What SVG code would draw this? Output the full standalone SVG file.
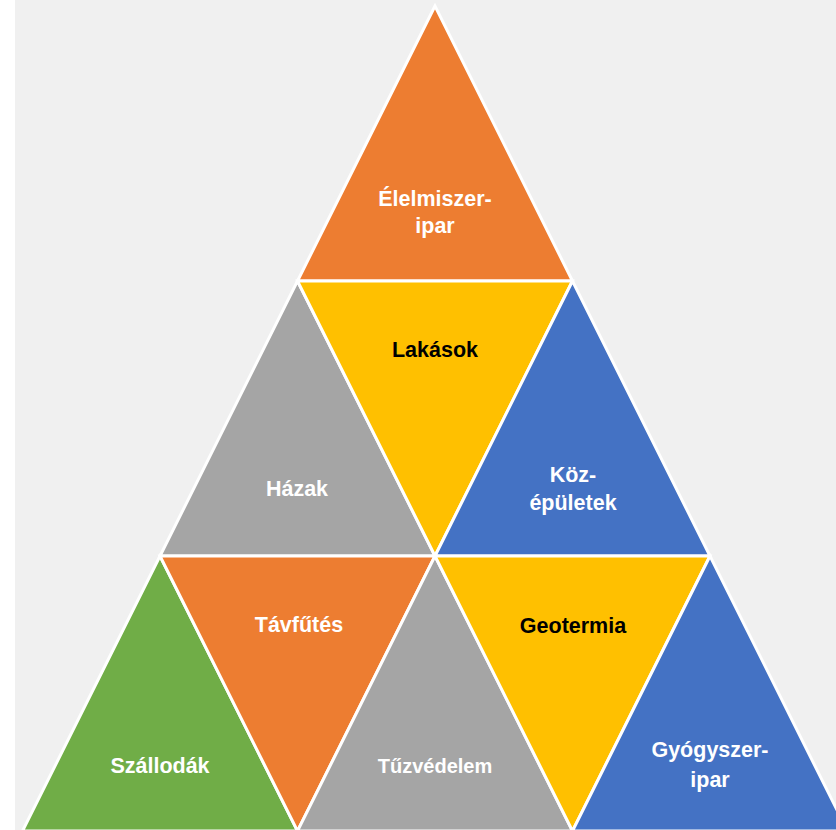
<svg xmlns="http://www.w3.org/2000/svg" width="836" height="830" viewBox="0 0 836 830">
<style>
.t{stroke:#ffffff;stroke-width:3;stroke-linejoin:miter}
.o{fill:#ED7D31}.y{fill:#FFC000}.g{fill:#A5A5A5}.b{fill:#4472C4}.gr{fill:#70AD47}
text{font-family:"Liberation Sans",Arial,sans-serif;font-weight:bold;font-size:21.5px;text-anchor:middle}
.w{fill:#ffffff}.k{fill:#000000}
</style>
<rect x="0" y="0" width="836" height="830" fill="#ffffff"/>
<rect x="15" y="0" width="821" height="830" fill="#F0F0F0"/>
<g id="elelmiszeripar"><polygon class="t o" points="435,6 297.5,281 572.5,281"/><text class="w" x="435" y="206">Élelmiszer-</text><text class="w" x="435" y="233">ipar</text></g>
<g id="hazak"><polygon class="t g" points="297.5,281 160,556 435,556"/><text class="w" x="297" y="496">Házak</text></g>
<g id="lakasok"><polygon class="t y" points="297.5,281 572.5,281 435,556"/><text class="k" x="435" y="357">Lakások</text></g>
<g id="kozepuletek"><polygon class="t b" points="572.5,281 435,556 710,556"/><text class="w" x="573" y="482">Köz-</text><text class="w" x="573" y="510">épületek</text></g>
<g id="szallodak"><polygon class="t gr" points="160,556 22.5,831 297.5,831"/><text class="w" x="160" y="773">Szállodák</text></g>
<g id="tavfutes"><polygon class="t o" points="160,556 435,556 297.5,831"/><text class="w" x="299" y="632">Távfűtés</text></g>
<g id="tuzvedelem"><polygon class="t g" points="435,556 297.5,831 572.5,831"/><text class="w" x="435" y="773" style="font-size:20px">Tűzvédelem</text></g>
<g id="geotermia"><polygon class="t y" points="435,556 710,556 572.5,831"/><text class="k" x="573" y="633">Geotermia</text></g>
<g id="gyogyszeripar"><polygon class="t b" points="710,556 572.5,831 847.5,831"/><text class="w" x="710" y="757">Gyógyszer-</text><text class="w" x="710" y="787">ipar</text></g>
<g id="connectors"></g>
</svg>
